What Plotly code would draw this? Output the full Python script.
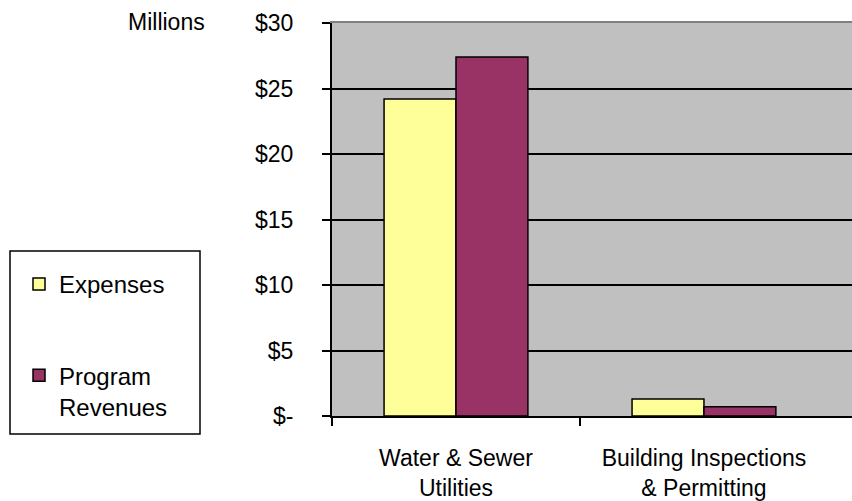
import plotly.graph_objects as go

# Program data, in millions of dollars
categories = ["Water & Sewer<br>Utilities", "Building Inspections<br>& Permitting"]
expenses = [24.2, 1.3]
program_revenues = [27.4, 0.7]
y_tick_values = [0, 5, 10, 15, 20, 25, 30]
y_tick_labels = ["$-", "$5", "$10", "$15", "$20", "$25", "$30"]

FONT = "Liberation Sans, Arial, sans-serif"
PLOT_LEFT, PLOT_RIGHT, PLOT_TOP, PLOT_BOTTOM = 332, 852, 23, 416
W, H = 852, 501
pw, ph = PLOT_RIGHT - PLOT_LEFT, PLOT_BOTTOM - PLOT_TOP


def px_to_paper_x(px):
    return (px - PLOT_LEFT) / pw


def px_to_paper_y(py):
    return (PLOT_BOTTOM - py) / ph


x_pos = list(range(len(categories)))

fig = go.Figure()
fig.add_trace(go.Bar(
    name="Expenses", x=x_pos, y=expenses, legendgroup="a",
    marker=dict(color="#FFFF99", line=dict(color="black", width=1.5)),
))
fig.add_trace(go.Bar(
    name="Program<br>Revenues", x=x_pos, y=program_revenues, legendgroup="b",
    marker=dict(color="#993366", line=dict(color="black", width=1.5)),
))

fig.update_layout(
    width=W, height=H,
    margin=dict(l=PLOT_LEFT, r=W - PLOT_RIGHT, t=PLOT_TOP, b=H - PLOT_BOTTOM, pad=0,
                autoexpand=False),
    paper_bgcolor="white",
    plot_bgcolor="#C0C0C0",
    barmode="group", bargap=0.42, bargroupgap=0,
    font=dict(family=FONT, size=23, color="black"),
    showlegend=True,
    legend=dict(
        x=px_to_paper_x(19), y=px_to_paper_y(262), xanchor="left", yanchor="top",
        bgcolor="rgba(0,0,0,0)", borderwidth=0,
        traceorder="grouped", tracegroupgap=57, valign="top",
        font=dict(family=FONT, size=24),
    ),
    xaxis=dict(
        range=[-0.5, 1.597], tickmode="array", tickvals=x_pos, ticktext=categories,
        ticks="", showgrid=False, zeroline=False, automargin=False,
        showline=True, linecolor="black", linewidth=2,
        ticklabelstandoff=20, tickfont=dict(family=FONT, size=23),
        minor=dict(tickmode="array", tickvals=[-0.5, 0.5], ticks="outside",
                   ticklen=8, tickwidth=2, tickcolor="black", showgrid=False),
    ),
    xaxis2=dict(
        overlaying="x", side="top", range=[-0.5, 1.597], showline=True,
        linecolor="#808080", linewidth=2, showticklabels=False, ticks="",
        showgrid=False, zeroline=False, automargin=False,
    ),
    yaxis=dict(
        range=[0, 30], tickmode="array", tickvals=y_tick_values, ticktext=y_tick_labels,
        ticks="outside", ticklen=8, tickwidth=2, tickcolor="black",
        showgrid=True, gridcolor="black", gridwidth=2, zeroline=False,
        showline=True, linecolor="black", linewidth=2, automargin=False,
        ticklabelstandoff=24, tickfont=dict(family=FONT, size=23),
    ),
    shapes=[dict(
        type="rect", xref="paper", yref="paper",
        x0=px_to_paper_x(10), x1=px_to_paper_x(200),
        y0=px_to_paper_y(434), y1=px_to_paper_y(251),
        line=dict(color="black", width=1.5), fillcolor="rgba(0,0,0,0)",
    )],
    annotations=[dict(
        text="Millions", xref="paper", yref="paper",
        x=px_to_paper_x(207), y=px_to_paper_y(22), xanchor="right", yanchor="middle",
        showarrow=False, font=dict(family=FONT, size=23),
    )],
)

# Invisible trace to carry the top border axis
fig.add_trace(go.Scatter(x=[0], y=[0], xaxis="x2", mode="markers",
                         marker=dict(opacity=0), showlegend=False, hoverinfo="skip"))

fig.write_html("out.html")
